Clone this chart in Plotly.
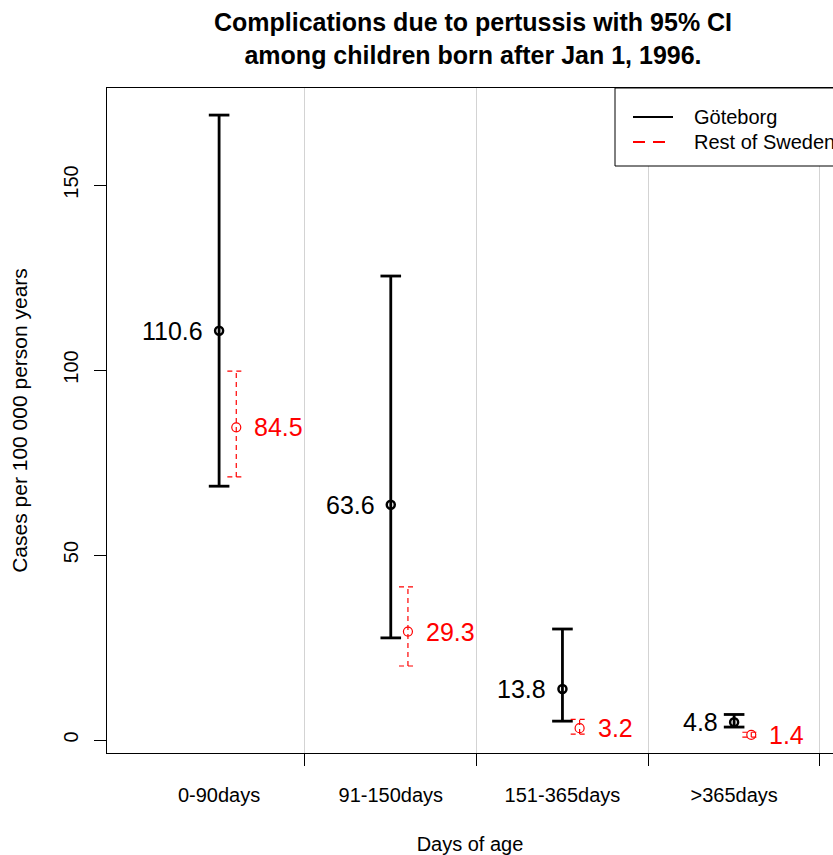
import plotly.graph_objects as go

# Complication rates per 100 000 person years, with 95% confidence limits
age_groups = ["0-90days", "91-150days", "151-365days", ">365days"]
gbg_rate = [110.6, 63.6, 13.8, 4.8]
gbg_lower = [68.6, 27.6, 5.1, 3.5]
gbg_upper = [168.9, 125.4, 30.0, 6.9]
swe_rate = [84.5, 29.3, 3.2, 1.4]
swe_lower = [71.1, 20.0, 1.6, 0.8]
swe_upper = [99.7, 41.4, 5.6, 2.1]
series_names = ["Göteborg", "Rest of Sweden"]

FONT = "Liberation Sans, Arial, sans-serif"
RED = "#ff0000"

# x position of each group: Göteborg at the centre, Rest of Sweden just right of it
gbg_x = [i + 0.5 for i in range(len(age_groups))]
swe_x = [i + 0.6 for i in range(len(age_groups))]


def ci_path(xs, lo, hi, half):
    """Vertical interval plus top and bottom caps, as one broken line."""
    px, py = [], []
    for x, l, h in zip(xs, lo, hi):
        px += [x, x, None, x - half, x + half, None, x - half, x + half, None]
        py += [l, h, None, h, h, None, l, l, None]
    return px, py


fig = go.Figure()

gx, gy = ci_path(gbg_x, gbg_lower, gbg_upper, 0.06)
fig.add_trace(go.Scatter(x=gx, y=gy, mode="lines", name=series_names[0],
                         line=dict(color="black", width=2.8),
                         showlegend=False, hoverinfo="skip"))
fig.add_trace(go.Scatter(x=gbg_x, y=gbg_rate, mode="markers", name=series_names[0],
                         marker=dict(symbol="circle-open", size=8, color="black",
                                     line=dict(width=2.5, color="black")),
                         showlegend=False))

sx, sy = ci_path(swe_x, swe_lower, swe_upper, 0.052)
fig.add_trace(go.Scatter(x=sx, y=sy, mode="lines", name=series_names[1],
                         line=dict(color=RED, width=1.2, dash="5px,4px"),
                         showlegend=False, hoverinfo="skip"))
fig.add_trace(go.Scatter(x=swe_x, y=swe_rate, mode="markers", name=series_names[1],
                         xaxis="x2",
                         marker=dict(symbol="circle-open", size=9, color=RED,
                                     line=dict(width=1.2, color=RED)),
                         showlegend=False))

# Value labels next to each point estimate
annotations = []
for x, v in zip(gbg_x, gbg_rate):
    annotations.append(dict(x=x, y=v, xref="x", yref="y", text=str(v),
                            showarrow=False, xanchor="right", yanchor="middle",
                            xshift=-14, font=dict(family=FONT, size=25, color="black")))
for x, v in zip(swe_x, swe_rate):
    annotations.append(dict(x=x, y=v, xref="x", yref="y", text=str(v),
                            showarrow=False, xanchor="left", yanchor="middle",
                            xshift=16, font=dict(family=FONT, size=25, color=RED)))

# Boxed legend in the top right corner
L, W = 107, 726          # plot left edge and width in px
B, H = 753, 665          # plot bottom edge and height in px


def px_x(p):
    return (p - L) / W


def px_y(p):
    return (B - p) / H


shapes = [
    dict(type="rect", xref="paper", yref="paper",
         x0=px_x(615), x1=px_x(850), y0=px_y(166), y1=1,
         line=dict(color="black", width=1), fillcolor="white", layer="above"),
    dict(type="line", xref="paper", yref="paper",
         x0=px_x(633), x1=px_x(673), y0=px_y(117), y1=px_y(117),
         line=dict(color="black", width=2)),
    dict(type="line", xref="paper", yref="paper",
         x0=px_x(633), x1=px_x(673), y0=px_y(142), y1=px_y(142),
         line=dict(color=RED, width=2, dash="12px,8px")),
]
for name, ypix in zip(series_names, [117, 142]):
    annotations.append(dict(x=px_x(692), y=px_y(ypix), xref="paper", yref="paper",
                            text=name, showarrow=False, xanchor="left", yanchor="middle",
                            font=dict(family=FONT, size=20, color="black")))

xrange = [-0.153, 4.076]

fig.update_layout(
    width=833, height=855,
    margin=dict(l=L, r=0, t=88, b=855 - B, autoexpand=False),
    paper_bgcolor="white", plot_bgcolor="white",
    font=dict(family=FONT, size=20, color="black"),
    title=dict(text="<b>Complications due to pertussis with 95% CI<br>"
                    "among children born after Jan 1, 1996.</b>",
               x=473 / 833, xanchor="center", xref="container",
               y=1 - 31 / 855, yanchor="top", yref="container",
               font=dict(family=FONT, size=25, color="black")),
    xaxis=dict(range=xrange, tickvals=[1, 2, 3, 4], showticklabels=False,
               ticks="outside", ticklen=12, tickwidth=1, tickcolor="black",
               showgrid=True, gridcolor="#d3d3d3", gridwidth=1,
               showline=True, linecolor="black", linewidth=1, mirror=True,
               zeroline=False),
    xaxis2=dict(range=xrange, overlaying="x", anchor="y", side="bottom",
                tickvals=gbg_x, ticktext=age_groups, ticks="",
                ticklabelstandoff=28,
                tickfont=dict(family=FONT, size=20, color="black"),
                showgrid=False, showline=False, zeroline=False,
                title=dict(text="Days of age", standoff=36,
                           font=dict(family=FONT, size=20, color="black"))),
    yaxis=dict(range=[-3.51, 176.22], tickvals=[0, 50, 100, 150],
               ticks="outside", ticklen=12, tickwidth=1, tickcolor="black",
               tickangle=-90, ticklabelstandoff=8,
               tickfont=dict(family=FONT, size=20, color="black"),
               showgrid=False, showline=True, linecolor="black", linewidth=1,
               zeroline=False,
               title=dict(text="Cases per 100 000 person years", standoff=26,
                          font=dict(family=FONT, size=21, color="black"))),
    annotations=annotations,
    shapes=shapes,
    showlegend=False,
)

fig.write_html("out.html")
